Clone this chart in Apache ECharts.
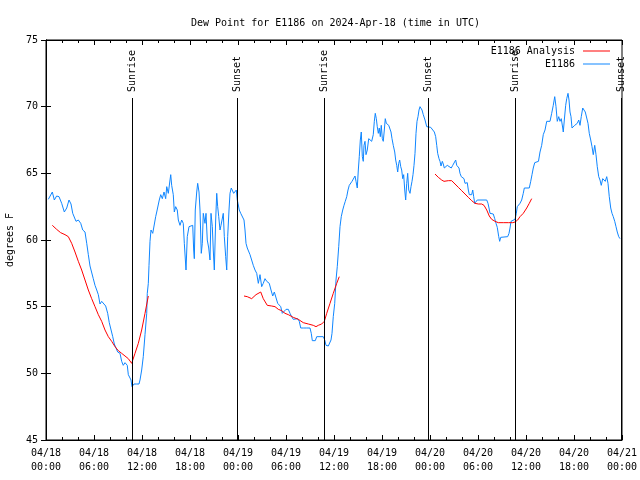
<!DOCTYPE html>
<html>
<head>
<meta charset="utf-8">
<script src="https://cdn.jsdelivr.net/npm/echarts@6/dist/echarts.min.js"></script>
<style>html,body{margin:0;padding:0;background:#fff}#c{width:640px;height:480px}</style>
</head>
<body>
<div id="c"></div>
<script>
// hours since 04/18 00:00 UTC, dew point in degrees F
const dayLabels = ['04/18', '04/19', '04/20', '04/21'];
const yTicks = [45, 50, 55, 60, 65, 70, 75];

const observedApr18 = [[0.29,63.05],[0.79,63.6],[1.04,63.0],[1.33,63.3],[1.625,63.25],[1.96,62.75],[2.29,62.1],[2.59,62.4],[2.875,63.0],[3.125,62.7],[3.34,62.0],[3.54,62.1],[3.75,61.4],[4.04,61.5],[4.34,61.25],[4.59,60.75],[4.875,60.6],[5.09,59.75],[5.29,58.9],[5.5,58.05],[5.75,57.95],[5.91,57.1],[6.125,56.6],[6.34,56.25],[6.54,55.9],[6.75,55.2],[6.96,55.4],[7.16,55.5],[7.46,55.05],[7.71,54.5],[7.91,53.8],[8.125,53.8],[8.34,52.75],[8.54,52.2],[8.75,52.1],[8.96,51.6],[9.25,51.5],[9.46,50.9],[9.66,50.6],[9.875,50.8],[10.16,50.6],[10.29,49.9],[10.5,49.8],[10.625,49.5],[10.75,49.0],[11.0,49.2],[11.34,49.2],[11.625,49.2],[11.75,49.5],[11.96,50.25],[12.16,51.25],[12.375,52.9],[12.59,54.5],[12.66,56.0],[12.79,56.75],[12.875,58.1],[13.0,59.9],[13.125,60.75],[13.34,60.5],[13.54,60.4],[13.71,61.75],[13.84,62.1],[14.04,62.0],[14.16,63.0],[14.34,63.4],[14.54,63.1],[14.75,63.6],[14.96,63.1],[15.09,64.0],[15.29,63.5],[15.5,64.5],[15.59,64.9],[15.71,64.1],[15.91,63.4],[16.04,62.1],[16.21,62.5],[16.41,62.25],[16.54,61.5],[16.75,61.1],[16.96,61.5],[17.16,61.25],[17.29,59.75],[17.5,57.75],[17.66,60.25],[17.875,61.0],[18.125,61.0],[18.34,61.1],[18.46,59.25],[18.54,58.6],[18.66,62.25],[18.84,63.6],[18.96,64.25],[19.125,63.6],[19.25,62.25],[19.41,59.0],[19.54,59.75],[19.66,62.0],[19.875,61.25],[20.0,62.0],[20.16,60.0],[20.34,59.4],[20.5,58.5],[20.625,62.0],[20.79,61.0],[20.91,59.25],[21.04,57.75],[21.21,61.5],[21.34,63.5],[21.46,62.5],[21.59,61.75],[21.75,60.75],[21.875,61.1],[22.04,61.0],[22.16,62.0],[22.29,60.25],[22.46,58.75],[22.59,57.75],[22.71,60.25],[22.875,62.25],[23.0,63.5],[23.16,63.9],[23.34,64.0],[23.46,63.5],[23.625,63.6],[23.79,63.75],[23.91,63.0]];

const observedApr19 = [[24.0,62.75],[24.16,62.25],[24.34,62.0],[24.59,62.0],[24.75,61.5],[24.875,60.75],[25.0,59.75],[25.16,59.4],[25.375,59.25],[25.5,58.9],[25.75,58.75],[25.91,58.1],[26.125,57.75],[26.34,57.5],[26.54,56.75],[26.75,57.4],[26.96,56.5],[27.16,56.75],[27.375,57.1],[27.59,56.9],[27.91,56.75],[28.125,56.25],[28.34,55.8],[28.54,56.1],[28.75,56.1],[28.96,55.25],[29.16,55.4],[29.34,55.0],[29.54,54.5],[29.75,54.5],[30.0,54.8],[30.29,54.8],[30.5,54.5],[30.71,54.25],[30.91,54.05],[31.125,54.1],[31.46,54.1],[31.66,53.9],[31.84,53.4],[32.16,53.4],[32.59,53.4],[33.0,53.4],[33.16,53.0],[33.29,52.45],[33.5,52.6],[33.66,52.45],[33.84,52.75],[34.25,52.75],[34.66,52.75],[34.84,52.5],[35.0,52.1],[35.29,52.05],[35.5,52.05],[35.625,52.5],[35.75,53.0],[35.91,54.25],[36.09,55.25],[36.25,57.0],[36.41,58.0],[36.59,59.5],[36.75,61.0],[36.91,61.75],[37.09,62.25],[37.25,62.6],[37.41,62.9],[37.59,63.25],[37.75,63.75],[37.91,64.1],[38.09,64.25],[38.25,64.4],[38.41,64.4],[38.625,64.8],[38.75,64.4],[38.91,63.9],[39.04,65.25],[39.16,66.25],[39.29,67.5],[39.41,68.1],[39.54,66.25],[39.66,65.9],[39.75,67.1],[39.875,67.4],[40.0,66.4],[40.16,66.75],[40.34,67.6],[40.5,67.75],[40.71,67.4],[40.91,67.9],[41.04,68.9],[41.16,69.5],[41.29,69.1],[41.41,68.5],[41.54,68.0],[41.66,68.4],[41.79,67.75],[41.91,68.6],[42.04,67.6],[42.16,67.4],[42.29,68.25],[42.41,69.1],[42.54,68.75],[42.66,68.9],[42.84,68.6],[43.0,68.6],[43.125,68.1],[43.25,67.6],[43.41,67.1],[43.59,66.6],[43.71,66.0],[43.84,65.6],[43.96,65.1],[44.09,65.75],[44.21,66.0],[44.34,65.5],[44.46,65.25],[44.59,64.6],[44.71,64.9],[44.84,63.75],[44.96,63.0],[45.09,64.25],[45.21,65.0],[45.34,63.75],[45.5,63.5],[45.625,64.0],[45.75,64.4],[45.875,64.9],[46.0,65.6],[46.125,66.5],[46.25,68.0],[46.375,68.9],[46.5,69.25],[46.625,69.75],[46.75,70.0],[46.875,70.0],[47.0,69.75],[47.16,69.4],[47.375,69.0],[47.59,68.5],[47.79,68.45]];

const observedApr20 = [[48.09,68.45],[48.34,68.4],[48.54,68.1],[48.71,67.75],[48.84,67.1],[48.96,66.5],[49.125,66.1],[49.25,65.9],[49.375,65.55],[49.54,65.9],[49.66,65.7],[49.79,65.4],[49.96,65.5],[50.16,65.6],[50.41,65.6],[50.66,65.4],[50.84,65.6],[51.04,65.75],[51.21,66.0],[51.34,65.6],[51.46,65.7],[51.625,65.4],[51.75,65.0],[51.91,64.75],[52.09,64.6],[52.25,64.6],[52.375,64.25],[52.5,64.1],[52.66,64.3],[52.79,63.75],[52.91,63.4],[53.09,63.5],[53.21,63.4],[53.34,63.75],[53.46,63.25],[53.59,62.75],[53.75,62.8],[53.91,63.0],[55.09,63.0],[55.25,62.75],[55.375,62.4],[55.5,62.0],[55.91,61.95],[56.09,61.6],[56.25,61.25],[56.41,60.95],[56.59,60.25],[56.71,59.9],[56.84,60.2],[57.71,60.25],[57.875,60.5],[58.0,60.9],[58.125,61.4],[58.21,61.55],[58.625,61.55],[58.79,62.0],[58.91,62.5],[59.09,62.6],[59.25,62.75],[59.46,63.0],[59.66,63.5],[59.79,63.9],[60.41,63.9],[60.59,64.4],[60.75,64.9],[60.91,65.4],[61.09,65.8],[61.56,65.9],[61.75,66.6],[61.96,67.1],[62.16,67.9],[62.375,68.25],[62.59,68.9],[62.79,68.75],[63.0,68.9],[63.21,69.5],[63.41,70.1],[63.59,70.75],[63.75,70.0],[63.91,68.9],[64.09,69.25],[64.25,68.9],[64.41,69.1],[64.59,68.4],[64.66,68.1],[64.79,69.0],[64.96,70.1],[65.09,70.6],[65.25,71.0],[65.375,70.5],[65.5,69.6],[65.625,69.25],[65.75,68.4],[65.91,68.25],[66.09,68.6],[66.25,68.6],[66.41,68.75],[66.59,69.0],[66.75,68.6],[66.91,69.25],[67.09,69.9],[67.25,69.75],[67.41,69.6],[67.59,69.5],[67.75,68.75],[67.91,68.0],[68.09,67.5],[68.25,67.0],[68.41,66.4],[68.59,67.1],[68.75,66.4],[68.91,65.5],[69.09,64.75],[69.25,64.5],[69.41,64.1],[69.59,64.6],[69.75,64.75],[69.91,64.4],[70.09,64.75],[70.25,64.25],[70.41,63.25],[70.59,62.4],[70.75,62.0],[70.91,61.75],[71.09,61.4],[71.25,61.0],[71.41,60.6],[71.59,60.25],[71.75,60.1]];

const analysisApr18 = [[0.79,61.1],[1.33,60.8],[1.83,60.55],[2.375,60.4],[2.79,60.25],[3.21,59.75],[3.625,59.1],[4.04,58.4],[4.46,57.75],[4.875,57.0],[5.29,56.25],[5.71,55.6],[6.125,55.0],[6.54,54.4],[6.96,53.9],[7.375,53.25],[7.79,52.75],[8.21,52.4],[8.625,52.0],[9.04,51.7],[9.46,51.5],[9.875,51.3],[10.29,51.1],[10.71,50.75],[11.125,51.5],[11.54,52.25],[11.96,53.25],[12.375,54.5],[12.79,55.8]];
const analysisApr19 = [[24.75,55.8],[25.16,55.75],[25.71,55.6],[26.25,55.9],[26.84,56.1],[27.16,55.6],[27.66,55.1],[28.21,55.05],[28.625,55.0],[29.04,54.8],[29.46,54.7],[29.875,54.5],[30.29,54.4],[30.91,54.2],[31.54,54.05],[32.16,53.8],[32.79,53.7],[33.41,53.6],[33.75,53.5],[34.04,53.6],[34.46,53.7],[34.79,53.9],[35.09,54.5],[35.5,55.25],[35.91,56.0],[36.34,56.75],[36.66,57.25]];
const analysisApr20 = [[48.625,64.95],[49.04,64.7],[49.46,64.5],[49.75,64.4],[50.29,64.45],[50.71,64.45],[51.125,64.2],[51.54,63.95],[51.96,63.7],[52.375,63.45],[52.79,63.2],[53.21,62.95],[53.625,62.75],[54.04,62.7],[54.46,62.7],[54.75,62.6],[55.09,62.25],[55.41,61.8],[55.71,61.55],[56.125,61.4],[56.54,61.3],[57.16,61.3],[57.79,61.3],[58.34,61.3],[58.625,61.35],[58.96,61.5],[59.25,61.75],[59.66,62.0],[60.09,62.4],[60.41,62.75],[60.71,63.1]];

const sunNames = ['Sunrise', 'Sunset', 'Sunrise', 'Sunset', 'Sunrise', 'Sunset'];
const sunHours = [10.75, 23.875, 34.75, 47.75, 58.625, 71.875];
const sunLineTop = 70.65;   // top of the vertical sun lines (degrees F scale)
const sunLabelStart = 71.1; // where the rotated labels start (they run upwards)

const FONT = '"DejaVu Sans Mono", "Liberation Mono", monospace';
const observed = observedApr18.concat(observedApr19, observedApr20);
const analysis = analysisApr18.concat([[12.9, '-']], analysisApr19, [[36.7, '-']], analysisApr20);

function xLabel(v) {
  const d = Math.floor(v / 24);
  const h = Math.round(v - d * 24);
  return dayLabels[d] + '\n' + (h < 10 ? '0' : '') + h + ':00';
}

const chart = echarts.init(document.getElementById('c'), null, {renderer: 'canvas'});
chart.setOption({
  animation: false,
  backgroundColor: '#fff',
  title: {
    text: 'Dew Point for E1186 on 2024-Apr-18 (time in UTC)',
    left: 186, top: 13,
    textStyle: {fontFamily: FONT, fontSize: 10, fontWeight: 'normal', color: '#000'}
  },
  legend: [
    {data: ['E1186 Analysis'], right: 25, top: 41, orient: 'vertical', align: 'right',
     icon: 'rect', itemWidth: 27, itemHeight: 1,
     textStyle: {fontFamily: FONT, fontSize: 10, color: '#000', padding: [0, 3, 0, 0]}},
    {data: ['E1186'], right: 25, top: 54, orient: 'vertical', align: 'right',
     icon: 'rect', itemWidth: 27, itemHeight: 1,
     textStyle: {fontFamily: FONT, fontSize: 10, color: '#000', padding: [0, 3, 0, 0]}}
  ],
  grid: {left: 46, right: 18, top: 40, bottom: 40, show: true, borderColor: '#000', borderWidth: 1,
         containLabel: false, outerBoundsMode: 'none'},
  xAxis: [
    {type: 'value', min: 0, max: 72, interval: 6, position: 'bottom',
     axisLine: {show: true, lineStyle: {color: '#000', width: 1}},
     axisTick: {show: true, inside: true, length: 5, lineStyle: {color: '#000'}},
     minorTick: {show: true, splitNumber: 3, length: 3, lineStyle: {color: '#000'}},
     splitLine: {show: false},
     axisLabel: {formatter: xLabel, fontFamily: FONT, fontSize: 10, color: '#000', lineHeight: 14, margin: 6}},
    {type: 'value', min: 0, max: 72, interval: 6, position: 'top',
     axisLine: {show: true, lineStyle: {color: '#000', width: 1}},
     axisTick: {show: true, inside: true, length: 5, lineStyle: {color: '#000'}},
     minorTick: {show: true, splitNumber: 3, length: 3, lineStyle: {color: '#000'}},
     splitLine: {show: false}, axisLabel: {show: false}}
  ],
  yAxis: [
    {type: 'value', min: yTicks[0], max: yTicks[yTicks.length - 1], interval: 5, position: 'left',
     name: 'degrees F', nameLocation: 'middle', nameRotate: 90, nameGap: 31,
     nameTextStyle: {fontFamily: FONT, fontSize: 10, color: '#000'},
     axisLine: {show: true, lineStyle: {color: '#000', width: 1}},
     axisTick: {show: true, inside: true, length: 5, lineStyle: {color: '#000'}},
     splitLine: {show: false},
     axisLabel: {fontFamily: FONT, fontSize: 10, color: '#000', margin: 8}},
    {type: 'value', min: yTicks[0], max: yTicks[yTicks.length - 1], interval: 5, position: 'right',
     axisLine: {show: true, lineStyle: {color: '#000', width: 1}},
     axisTick: {show: true, inside: true, length: 5, lineStyle: {color: '#000'}},
     splitLine: {show: false}, axisLabel: {show: false}}
  ],
  series: [
    {name: 'E1186 Analysis', type: 'line', data: analysis, showSymbol: false, connectNulls: false,
     color: '#ff0000', lineStyle: {color: '#ff0000', width: 1}, z: 3},
    {name: 'E1186', type: 'line', data: observed, showSymbol: false,
     color: '#0f86ff', lineStyle: {color: '#0f86ff', width: 1}, z: 2,
     markLine: {
       silent: true, symbol: ['none', 'none'],
       lineStyle: {color: '#000', width: 1, type: 'solid'},
       label: {show: false},
       data: sunHours.map(h => [{coord: [h, yTicks[0]]}, {coord: [h, sunLineTop]}])
     },
     markPoint: {
       silent: true, symbol: 'rect', symbolSize: 0,
       label: {show: true, rotate: 90, position: 'inside', align: 'left', verticalAlign: 'middle',
               fontFamily: FONT, fontSize: 10, color: '#000', formatter: p => p.name},
       data: sunHours.map((h, i) => ({name: sunNames[i], coord: [h, sunLabelStart]}))
     }}
  ]
});
</script>
</body>
</html>
